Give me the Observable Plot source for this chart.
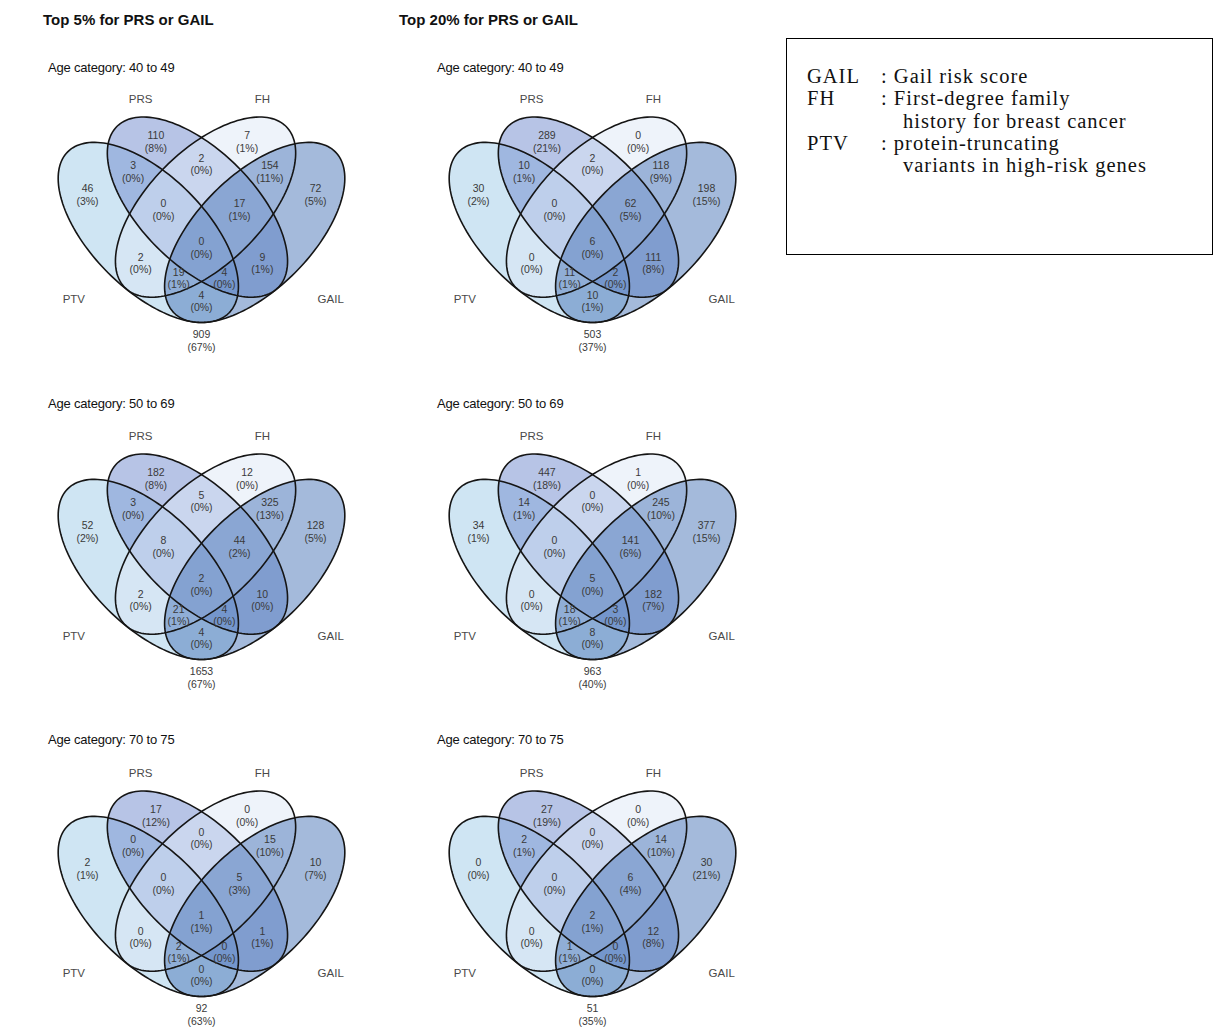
<!DOCTYPE html>
<html><head><meta charset="utf-8">
<script src="https://cdn.jsdelivr.net/npm/d3@7"></script>
<script src="https://cdn.jsdelivr.net/npm/@observablehq/plot@0.6"></script>
<style>
body{margin:0;background:#fff;width:1215px;height:1027px;position:relative;overflow:hidden;font-family:"Liberation Sans",Arial,sans-serif;}
.abs{position:absolute;white-space:nowrap;line-height:16px;}
.coltitle{font-weight:bold;font-size:15px;color:#111;}
.agetitle{font-size:13px;color:#111;letter-spacing:-0.2px;}
#legend{position:absolute;left:786px;top:38px;width:427px;height:217px;border:1px solid #000;box-sizing:border-box;font-family:"Liberation Serif","DejaVu Serif",serif;font-size:20.5px;letter-spacing:1px;color:#111;}
#legend div{position:absolute;white-space:nowrap;line-height:19px;}
</style></head><body>
<script>
// ---- data ----
const sets = ["PTV", "PRS", "FH", "GAIL"];
const regions = ["PTV", "PRS", "FH", "GAIL", "PTV&PRS", "PRS&FH", "FH&GAIL", "PTV&FH", "PRS&GAIL", "PTV&GAIL",
                 "PTV&PRS&FH", "PRS&FH&GAIL", "PTV&FH&GAIL", "PTV&PRS&GAIL", "All four", "None"];
const thresholds = ["Top 5% for PRS or GAIL", "Top 20% for PRS or GAIL"];
const ageCategories = ["Age category: 40 to 49", "Age category: 50 to 69", "Age category: 70 to 75"];

const top5_40to49_counts  = [46, 110, 7, 72, 3, 2, 154, 2, 9, 4, 0, 17, 19, 4, 0, 909];
const top5_40to49_pct     = [3, 8, 1, 5, 0, 0, 11, 0, 1, 0, 0, 1, 1, 0, 0, 67];
const top20_40to49_counts = [30, 289, 0, 198, 10, 2, 118, 0, 111, 10, 0, 62, 11, 2, 6, 503];
const top20_40to49_pct    = [2, 21, 0, 15, 1, 0, 9, 0, 8, 1, 0, 5, 1, 0, 0, 37];
const top5_50to69_counts  = [52, 182, 12, 128, 3, 5, 325, 2, 10, 4, 8, 44, 21, 4, 2, 1653];
const top5_50to69_pct     = [2, 8, 0, 5, 0, 0, 13, 0, 0, 0, 0, 2, 1, 0, 0, 67];
const top20_50to69_counts = [34, 447, 1, 377, 14, 0, 245, 0, 182, 8, 0, 141, 18, 3, 5, 963];
const top20_50to69_pct    = [1, 18, 0, 15, 1, 0, 10, 0, 7, 0, 0, 6, 1, 0, 0, 40];
const top5_70to75_counts  = [2, 17, 0, 10, 0, 0, 15, 0, 1, 0, 0, 5, 2, 0, 1, 92];
const top5_70to75_pct     = [1, 12, 0, 7, 0, 0, 10, 0, 1, 0, 0, 3, 1, 0, 1, 63];
const top20_70to75_counts = [0, 27, 0, 30, 2, 0, 14, 0, 12, 0, 0, 6, 1, 0, 2, 51];
const top20_70to75_pct    = [0, 19, 0, 21, 1, 0, 10, 0, 8, 0, 0, 4, 1, 0, 1, 35];

const legendKeys = ["GAIL", "FH", "PTV"];
const legendTexts = [["Gail risk score"], ["First-degree family", "history for breast cancer"], ["protein-truncating", "variants in high-risk genes"]];

// ---- layout (Venn geometry in diagram units) ----
const setColors = ["#9fcbe7", "#6f89cd", "#dde7f5", "#4975b7"];
const ellipses = [
  {cx: -0.7, cy: -0.5, a: 0.75, b: 1.5, rot: Math.PI / 4},
  {cx: -0.72 + 2 / 3, cy: -1 / 6, a: 0.75, b: 1.5, rot: Math.PI / 4},
  {cx: 0.72 - 2 / 3, cy: -1 / 6, a: 0.75, b: 1.5, rot: -Math.PI / 4},
  {cx: 0.7, cy: -0.5, a: 0.75, b: 1.5, rot: -Math.PI / 4}
];
const regionAnchorX = [-1.5, -0.6, 0.6, 1.5, -0.9, 0, 0.9, -0.8, 0.8, 0, -0.5, 0.5, -0.3, 0.3, 0, 0];
const regionAnchorY = [0, 0.7, 0.7, 0, 0.3, 0.4, 0.3, -0.9, -0.9, -1.4, -0.2, -0.2, -1.1, -1.1, -0.7, -1.92];
const setLabelX = [-1.68, -0.8, 0.8, 1.7];
const setLabelY = [-1.38, 1.25, 1.25, -1.38];

const panels = [
  {col: 0, row: 0, counts: top5_40to49_counts, pct: top5_40to49_pct},
  {col: 1, row: 0, counts: top20_40to49_counts, pct: top20_40to49_pct},
  {col: 0, row: 1, counts: top5_50to69_counts, pct: top5_50to69_pct},
  {col: 1, row: 1, counts: top20_50to69_counts, pct: top20_50to69_pct},
  {col: 0, row: 2, counts: top5_70to75_counts, pct: top5_70to75_pct},
  {col: 1, row: 2, counts: top20_70to75_counts, pct: top20_70to75_pct}
];

function ellipsePoints(e, k) {
  const pts = [];
  const N = 160;
  for (let i = 0; i <= N; i++) {
    const t = 2 * Math.PI * i / N;
    const xr = e.a * Math.cos(t), yr = e.b * Math.sin(t);
    pts.push({set: sets[k], x: e.cx + xr * Math.cos(e.rot) - yr * Math.sin(e.rot), y: e.cy + xr * Math.sin(e.rot) + yr * Math.cos(e.rot)});
  }
  return pts;
}
const ellipseData = ellipses.map(ellipsePoints);
const allEllipsePts = ellipseData.flat();

function addText(txt, cls, left, top) {
  const d = document.createElement("div");
  d.className = "abs " + cls;
  d.style.left = left + "px";
  d.style.top = top + "px";
  d.textContent = txt;
  document.body.appendChild(d);
}

thresholds.forEach((t, c) => addText(t, "coltitle", 43 + c * 356, 12));

panels.forEach(p => {
  const regionRows = regions.map((r, i) => ({region: r, x: regionAnchorX[i], y: regionAnchorY[i], n: p.counts[i], pct: p.pct[i]}));
  const setRows = sets.map((s, i) => ({name: s, x: setLabelX[i], y: setLabelY[i]}));
  const chart = Plot.plot({
    width: 380, height: 275, margin: 0,
    x: {domain: [-2.5, 2.5], axis: null},
    y: {domain: [-2.12, 1.5], axis: null},
    style: {background: "transparent", fontFamily: "'Liberation Sans', Arial, sans-serif"},
    marks: [
      ...ellipseData.map((pts, k) => Plot.line(pts, {x: "x", y: "y", fill: setColors[k], fillOpacity: 0.5, stroke: "none"})),
      Plot.line(allEllipsePts, {x: "x", y: "y", z: "set", stroke: "#151515", strokeWidth: 1.6, fill: "none"}),
      Plot.text(regionRows, {x: "x", y: "y", text: d => `${d.n}\n(${d.pct}%)`, fontSize: 10.5, lineHeight: 1.2, fill: "#3a3a3a"}),
      Plot.text(setRows, {x: "x", y: "y", text: "name", fontSize: 11.5, fill: "#4a4a4a"})
    ]
  });
  chart.style.position = "absolute";
  chart.style.left = (11 + p.col * 391) + "px";
  chart.style.top = (80.4 + p.row * 337) + "px";
  document.body.appendChild(chart);
  addText(ageCategories[p.row], "agetitle", 48 + p.col * 389, 60 + p.row * 336);
});

// legend box
const lg = document.createElement("div");
lg.id = "legend";
const lineTops = [28, 50, 73, 95, 117];
let line = 0;
legendKeys.forEach((k, i) => {
  legendTexts[i].forEach((t, j) => {
    const top = lineTops[line];
    if (j === 0) {
      const a = document.createElement("div"); a.style.left = "20px"; a.style.top = top + "px"; a.textContent = k; lg.appendChild(a);
      const b = document.createElement("div"); b.style.left = "94px"; b.style.top = top + "px"; b.textContent = ": " + t; lg.appendChild(b);
    } else {
      const b = document.createElement("div"); b.style.left = "116px"; b.style.top = top + "px"; b.textContent = t; lg.appendChild(b);
    }
    line++;
  });
});
document.body.appendChild(lg);
</script>
</body></html>
